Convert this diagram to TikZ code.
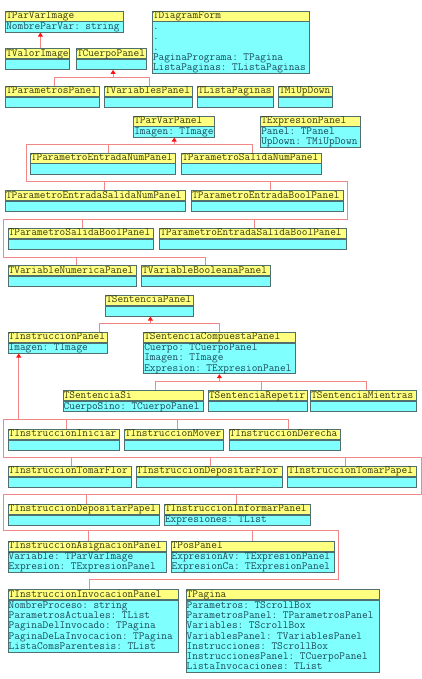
\documentclass[tikz,border=0pt]{standalone}
\usepackage{fontspec}
\usetikzlibrary{arrows.meta}
\definecolor{hdrfill}{HTML}{FFFF80}
\definecolor{bdyfill}{HTML}{80FFFF}
\definecolor{bordercol}{HTML}{507070}
\definecolor{hdrtext}{HTML}{3A3A10}
\definecolor{bdytext}{HTML}{1A4A5A}
\definecolor{conncol}{HTML}{F08888}
\definecolor{arrowcol}{HTML}{FF1010}
\newcommand\umlfont{\fontsize{11}{10.3}\selectfont\ttfamily}
\tikzset{
  hdr/.style={draw=bordercol, fill=hdrfill, line width=0.8pt, inner xsep=0.6pt, inner ysep=0pt,
    minimum height=10pt, text height=7.5pt, text depth=2.5pt, align=left, font=\umlfont, text=hdrtext},
  bdy/.style={draw=bordercol, fill=bdyfill, line width=0.8pt, inner xsep=0.6pt, inner ysep=0pt,
    align=left, font=\umlfont, text=bdytext},
  conn/.style={draw=conncol, line width=0.8pt},
  inh/.style={conn, -{Triangle[width=5pt,length=4pt,color=arrowcol]}}
}
% #1 name, #2 x1, #3 y1, #4 x2, #5 title, #6 rows, #7 body
\newcommand\umlcls[7]{%
  \pgfmathsetmacro\clsw{#4-#2-1.2}%
  \pgfmathsetmacro\clsh{max(10,#6*10.3)}%
  \node[hdr, text width=\clsw pt, anchor=north west] (#1) at (#2,#3) {#5};
  \ifnum#6>0
  \node[bdy, text width=\clsw pt, minimum height=\clsh pt, anchor=north west] (#1b) at (#1.south west) {\rule{0pt}{7.6pt}#7\rule[-2.7pt]{0pt}{2.7pt}};
  \else
  \node[bdy, text width=\clsw pt, minimum height=\clsh pt, anchor=north west] (#1b) at (#1.south west) {};
  \fi
}
% top attachment of a child: #1 name, #2 xshift
\newcommand\topat[2]{\coordinate (#1t) at ([xshift=#2pt]#1.north);}
% bottom attachment of a parent
\newcommand\botat[2]{\coordinate (#1s) at ([xshift=#2pt]#1b.south);}
\begin{document}
\begin{tikzpicture}[x=1pt,y=-1pt]
\useasboundingbox (0,0) rectangle (422,679);
% ---------- classes ----------
\umlcls{TParVarImage}{5.3}{10.7}{123.3}{TParVarImage}{1}{NombreParVar: string}
\umlcls{TDiagramForm}{152}{10.7}{309.3}{TDiagramForm}{5}{.\\.\\.\\PaginaPrograma: TPagina\\ListaPaginas: TListaPaginas}
\umlcls{TValorImage}{5.3}{48.3}{69.3}{TValorImage}{0}{}
\umlcls{TCuerpoPanel}{76}{48.3}{145.7}{TCuerpoPanel}{0}{}
\umlcls{TParametrosPanel}{5.3}{86}{98.7}{TParametrosPanel}{0}{}
\umlcls{TVariablesPanel}{104}{86}{192}{TVariablesPanel}{0}{}
\umlcls{TListaPaginas}{197}{86}{272.7}{TListaPaginas}{0}{}
\umlcls{TMiUpDown}{278.3}{86}{331.7}{TMiUpDown}{0}{}
\umlcls{TParVarPanel}{133.3}{115.7}{214.3}{TParVarPanel}{1}{Imagen: TImage}
\umlcls{TExpresionPanel}{260.3}{115.7}{360}{TExpresionPanel}{2}{Panel: TPanel\\UpDown: TMiUpDown}
\umlcls{TParametroEntradaNumPanel}{30}{152.7}{175.3}{TParametroEntradaNumPanel}{0}{}
\umlcls{TParametroSalidaNumPanel}{181.3}{152.7}{321}{TParametroSalidaNumPanel}{0}{}
\umlcls{TParametroEntradaSalidaNumPanel}{5}{190.3}{185.3}{TParametroEntradaSalidaNumPanel}{0}{}
\umlcls{TParametroEntradaBoolPanel}{191.3}{190.3}{342.7}{TParametroEntradaBoolPanel}{0}{}
\umlcls{TParametroSalidaBoolPanel}{7.7}{228}{153.3}{TParametroSalidaBoolPanel}{0}{}
\umlcls{TParametroEntradaSalidaBoolPanel}{159.3}{228}{345.7}{TParametroEntradaSalidaBoolPanel}{0}{}
\umlcls{TVariableNumericaPanel}{7.7}{265.3}{136}{TVariableNumericaPanel}{0}{}
\umlcls{TVariableBooleanaPanel}{141.3}{265.3}{270}{TVariableBooleanaPanel}{0}{}
\umlcls{TSentenciaPanel}{105.3}{295}{192.7}{TSentenciaPanel}{0}{}
\umlcls{TInstruccionPanel}{7.7}{331.7}{106.7}{TInstruccionPanel}{1}{Imagen: TImage}
\umlcls{TSentenciaCompuestaPanel}{143.3}{331.7}{294.7}{TSentenciaCompuestaPanel}{3}{Cuerpo: TCuerpoPanel\\Imagen: TImage\\Expresion: TExpresionPanel}
\umlcls{TSentenciaSi}{62.7}{390.3}{202.7}{TSentenciaSi}{1}{CuerpoSino: TCuerpoPanel}
\umlcls{TSentenciaRepetir}{208}{390.3}{307}{TSentenciaRepetir}{0}{}
\umlcls{TSentenciaMientras}{310.3}{390.3}{416.3}{TSentenciaMientras}{0}{}
\umlcls{TInstruccionIniciar}{7.7}{428.7}{119.3}{TInstruccionIniciar}{0}{}
\umlcls{TInstruccionMover}{124}{428.7}{223.3}{TInstruccionMover}{0}{}
\umlcls{TInstruccionDerecha}{228.7}{428.7}{340}{TInstruccionDerecha}{0}{}
\umlcls{TInstruccionTomarFlor}{7.7}{465.7}{130.7}{TInstruccionTomarFlor}{0}{}
\umlcls{TInstruccionDepositarFlor}{135.7}{465.7}{282}{TInstruccionDepositarFlor}{0}{}
\umlcls{TInstruccionTomarPapel}{287.3}{465.7}{416}{TInstruccionTomarPapel}{0}{}
\umlcls{TInstruccionDepositarPapel}{7.7}{503.7}{159.3}{TInstruccionDepositarPapel}{0}{}
\umlcls{TInstruccionInformarPanel}{164}{503.7}{310}{TInstruccionInformarPanel}{1}{Expresiones: TList}
\umlcls{TInstruccionAsignacionPanel}{7.7}{540.7}{165.7}{TInstruccionAsignacionPanel}{2}{Variable: TParVarImage\\Expresion: TExpresionPanel}
\umlcls{TPosPanel}{170.7}{540.7}{334}{TPosPanel}{2}{ExpresionAv: TExpresionPanel\\ExpresionCa: TExpresionPanel}
\umlcls{TInstruccionInvocacionPanel}{7.7}{589.3}{177.7}{TInstruccionInvocacionPanel}{5}{NombreProceso: string\\ParametrosActuales: TList\\PaginaDelInvocado: TPagina\\PaginaDeLaInvocacion: TPagina\\ListaComsParentesis: TList}
\umlcls{TPagina}{185.7}{589.3}{379}{TPagina}{7}{Parametros: TScrollBox\\ParametrosPanel: TParametrosPanel\\Variables: TScrollBox\\VariablesPanel: TVariablesPanel\\Instrucciones: TScrollBox\\InstruccionesPanel: TCuerpoPanel\\ListaInvocaciones: TList}
% ---------- attachment points ----------
\topat{TValorImage}{2.7}
\topat{TParametrosPanel}{1.7}
\topat{TVariablesPanel}{1}
\botat{TCuerpoPanel}{1.85}
\botat{TParVarPanel}{0}
\topat{TParametroEntradaNumPanel}{5}
\topat{TParametroSalidaNumPanel}{1.2}
\topat{TParametroEntradaSalidaNumPanel}{8.85}
\topat{TParametroEntradaBoolPanel}{3.3}
\topat{TParametroSalidaBoolPanel}{1.8}
\topat{TParametroEntradaSalidaBoolPanel}{1.8}
\topat{TVariableNumericaPanel}{4.15}
\topat{TVariableBooleanaPanel}{-0.35}
\botat{TSentenciaPanel}{1}
\topat{TInstruccionPanel}{42.1}
\topat{TSentenciaCompuestaPanel}{0}
\botat{TSentenciaCompuestaPanel}{0}
\topat{TSentenciaSi}{22.6}
\topat{TSentenciaRepetir}{3.5}
\topat{TSentenciaMientras}{2.7}
\botat{TInstruccionPanel}{-38.9}
\topat{TInstruccionIniciar}{2.5}
\topat{TInstruccionMover}{3.35}
\topat{TInstruccionDerecha}{3.35}
\topat{TInstruccionTomarFlor}{1.5}
\topat{TInstruccionDepositarFlor}{1.45}
\topat{TInstruccionTomarPapel}{-6.95}
\topat{TInstruccionDepositarPapel}{2.5}
\topat{TInstruccionInformarPanel}{-0.7}
\topat{TInstruccionAsignacionPanel}{1.6}
\topat{TPosPanel}{0}
\topat{TInstruccionInvocacionPanel}{-3.4}
% ---------- bus bends ----------
\coordinate (b1) at (0,77);
\coordinate (c1) at (26.7,144.3);
\coordinate (c2) at (26.7,181.3);
\coordinate (c3) at (347.3,181.3);
\coordinate (c4) at (347.3,219.3);
\coordinate (c5) at (3.7,219.3);
\coordinate (c6) at (3.7,257.3);
\coordinate (d1) at (0,323.3);
\coordinate (e1) at (0,381.7);
\coordinate (f1) at (3.3,419);
\coordinate (f2) at (3.3,457);
\coordinate (f3) at (421.3,457);
\coordinate (f4) at (421.3,494.3);
\coordinate (f5) at (3.3,494.3);
\coordinate (f6) at (3.3,530.7);
\coordinate (f7) at (338.3,530.7);
\coordinate (f8) at (338.3,579.3);
% ---------- connectors ----------
% TParVarImage
\draw[inh] (TValorImaget) -- (TValorImaget |- TParVarImageb.south);
% TCuerpoPanel
\draw[conn] (TParametrosPanelt) -- (TParametrosPanelt |- b1) -- (TVariablesPanelt |- b1) -- (TVariablesPanelt);
\draw[inh] (TCuerpoPanels |- b1) -- (TCuerpoPanels);
% TParVarPanel
\draw[conn] (TParametroSalidaNumPanelt) -- (TParametroSalidaNumPanelt |- c1) -- (c1) -- (c2) -- (c3) -- (c4) -- (c5) -- (c6) -- (TVariableBooleanaPanelt |- c6) -- (TVariableBooleanaPanelt);
\draw[conn] (TParametroEntradaNumPanelt) -- (TParametroEntradaNumPanelt |- c1);
\draw[conn] (TParametroEntradaSalidaNumPanelt) -- (TParametroEntradaSalidaNumPanelt |- c2);
\draw[conn] (TParametroEntradaBoolPanelt) -- (TParametroEntradaBoolPanelt |- c2);
\draw[conn] (TParametroSalidaBoolPanelt) -- (TParametroSalidaBoolPanelt |- c4);
\draw[conn] (TParametroEntradaSalidaBoolPanelt) -- (TParametroEntradaSalidaBoolPanelt |- c4);
\draw[conn] (TVariableNumericaPanelt) -- (TVariableNumericaPanelt |- c6);
\draw[inh] (TParVarPanels |- c1) -- (TParVarPanels);
% TSentenciaPanel
\draw[conn] (TInstruccionPanelt) -- (TInstruccionPanelt |- d1) -- (TSentenciaCompuestaPanelt |- d1) -- (TSentenciaCompuestaPanelt);
\draw[inh] (TSentenciaPanels |- d1) -- (TSentenciaPanels);
% TSentenciaCompuestaPanel
\draw[conn] (TSentenciaSit) -- (TSentenciaSit |- e1) -- (TSentenciaMientrast |- e1) -- (TSentenciaMientrast);
\draw[conn] (TSentenciaRepetirt) -- (TSentenciaRepetirt |- e1);
\draw[inh] (TSentenciaCompuestaPanels |- e1) -- (TSentenciaCompuestaPanels);
% TInstruccionPanel
\draw[conn] (TInstruccionDerechat) -- (TInstruccionDerechat |- f1) -- (f1) -- (f2) -- (f3) -- (f4) -- (f5) -- (f6) -- (f7) -- (f8) -- (TInstruccionInvocacionPanelt |- f8) -- (TInstruccionInvocacionPanelt);
\draw[conn] (TInstruccionIniciart) -- (TInstruccionIniciart |- f1);
\draw[conn] (TInstruccionMovert) -- (TInstruccionMovert |- f1);
\draw[conn] (TInstruccionTomarFlort) -- (TInstruccionTomarFlort |- f2);
\draw[conn] (TInstruccionDepositarFlort) -- (TInstruccionDepositarFlort |- f2);
\draw[conn] (TInstruccionTomarPapelt) -- (TInstruccionTomarPapelt |- f2);
\draw[conn] (TInstruccionDepositarPapelt) -- (TInstruccionDepositarPapelt |- f4);
\draw[conn] (TInstruccionInformarPanelt) -- (TInstruccionInformarPanelt |- f4);
\draw[conn] (TInstruccionAsignacionPanelt) -- (TInstruccionAsignacionPanelt |- f6);
\draw[conn] (TPosPanelt) -- (TPosPanelt |- f6);
\draw[inh] (TInstruccionPanels |- f1) -- (TInstruccionPanels);
\end{tikzpicture}
\end{document}
